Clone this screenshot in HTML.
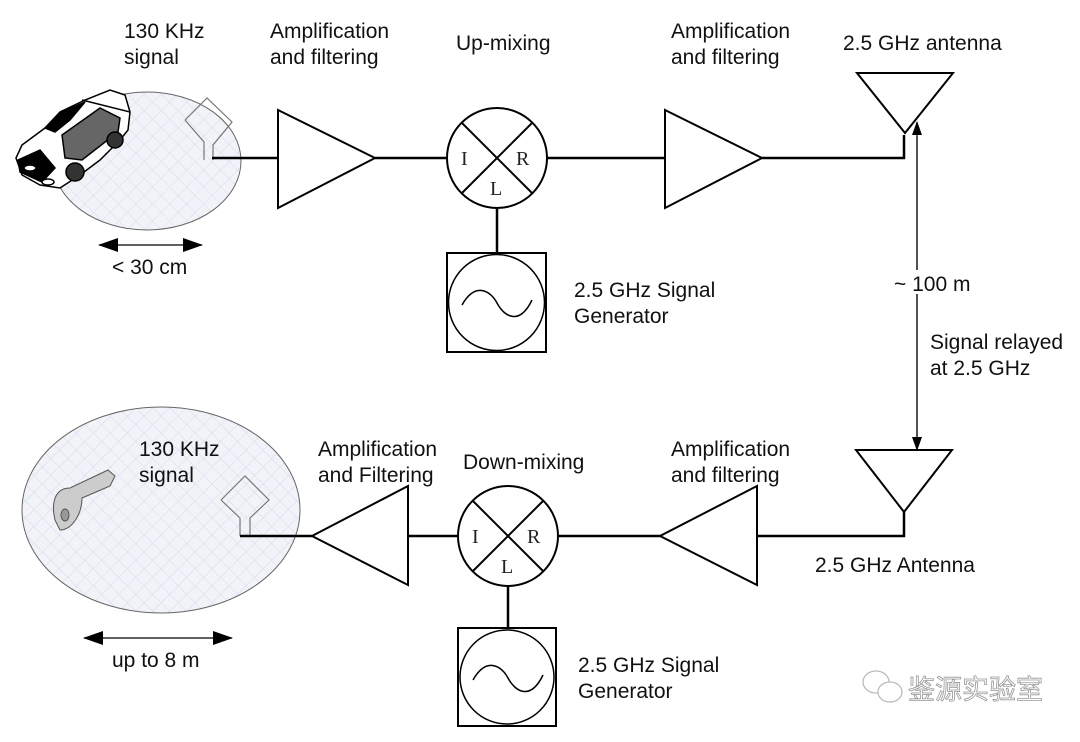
<!DOCTYPE html>
<html><head><meta charset="utf-8"><style>
html,body{margin:0;padding:0;background:#fff;}
svg text{font-family:"Liberation Sans",sans-serif;font-size:21px;fill:#111;}
svg text.s{font-family:"Liberation Serif",serif;font-size:20px;fill:#222;}
</style></head><body>
<svg width="1080" height="737" viewBox="0 0 1080 737" xmlns="http://www.w3.org/2000/svg">
<defs>
<pattern id="h" width="12" height="12" patternUnits="userSpaceOnUse" patternTransform="rotate(45)">
<rect width="12" height="12" fill="#f1f3f8"/>
<path d="M0 0H12M0 0V12" stroke="#d3dbef" stroke-width="1"/>
</pattern>
<marker id="a" markerWidth="14" markerHeight="10" refX="13" refY="5" orient="auto" markerUnits="userSpaceOnUse"><path d="M0 0L14 5L0 10z" fill="#000"/></marker>
<marker id="b" markerWidth="20" markerHeight="14" refX="19" refY="7" orient="auto" markerUnits="userSpaceOnUse"><path d="M0 0L20 7L0 14z" fill="#000"/></marker>
</defs>
<g fill="none" stroke="#000">
<ellipse cx="147" cy="161" rx="94" ry="69" fill="url(#h)" stroke="#666" stroke-width="1"/>
<!-- car -->
<g stroke="#000" stroke-width="1.5">
<path d="M16 158 L22 145 L45 128 L60 112 L85 100 L110 90 L125 95 L130 112 L128 130 L120 140 L100 160 L80 175 L60 188 L40 185 L22 175Z" fill="#fff"/>
<path d="M45 128 L62 112 L85 102 L70 120 L55 132Z" fill="#000"/>
<path d="M18 160 L40 150 L55 168 L42 182 L20 172Z" fill="#000"/>
<path d="M62 135 L100 108 L120 118 L118 132 L82 160 L65 158Z" fill="#666"/>
<path d="M82 100 L130 112" />
<circle cx="75" cy="172" r="9" fill="#333"/><circle cx="115" cy="140" r="8" fill="#333"/>
<ellipse cx="30" cy="168" rx="6" ry="3" fill="#fff"/><ellipse cx="48" cy="182" rx="6" ry="3" fill="#fff"/>
</g>
<g stroke="#777" stroke-width="1.2">
<path d="M185 120 L207 98 L232 122 L213 145 L213 160 M185 120 L204 142 L204 160"/>
</g>
<g stroke-width="2.5">
<path d="M212 158 H278"/>
<path d="M278 110 L375 158 L278 208Z" stroke-width="2"/>
<path d="M375 158 H447"/>
<circle cx="497" cy="158" r="50" stroke-width="2"/>
<path d="M462 123 L532 193 M532 123 L462 193" stroke-width="2"/>
<path d="M547 158 H665"/>
<path d="M665 110 L762 158 L665 208Z" stroke-width="2"/>
<path d="M762 158 H904 V135"/>
<path d="M857 73 H953 L905 133Z" stroke-width="2"/>
<path d="M497 208 V253"/>
<rect x="447" y="253" width="99" height="99" stroke-width="2"/>
<circle cx="496.5" cy="302.5" r="48" stroke-width="1.5"/>
<path d="M462 305 C475 282 490 290 497 303 C505 318 520 325 532 300" stroke-width="1.5"/>
</g>
<path d="M917 446 V122" stroke-width="1.2" marker-end="url(#a)"/>
<path d="M917 136 V450" stroke-width="1.2" marker-end="url(#a)"/>
<ellipse cx="161" cy="510" rx="139" ry="103" fill="url(#h)" stroke="#666" stroke-width="1"/>
<g stroke="#555" stroke-width="1" fill="#ccc">
<path d="M55 520 C50 498 58 488 70 488 L108 470 L115 476 L110 486 L96 492 L82 498 C82 514 72 530 60 530Z"/>
<ellipse cx="65" cy="515" rx="4" ry="6" fill="#999"/>
</g>
<g stroke="#777" stroke-width="1.2">
<path d="M221 500 L245 476 L269 500 L250 518 L250 535 M221 500 L240 518 L240 536"/>
</g>
<g stroke-width="2.5">
<path d="M240 536 H312"/>
<path d="M408 486 L312 536 L408 585Z" stroke-width="2"/>
<path d="M408 536 H458"/>
<circle cx="508" cy="536" r="50" stroke-width="2"/>
<path d="M473 501 L543 571 M543 501 L473 571" stroke-width="2"/>
<path d="M558 536 H660"/>
<path d="M757 486 L660 536 L757 585Z" stroke-width="2"/>
<path d="M757 536 H904 V512"/>
<path d="M856 450 H952 L904 512Z" stroke-width="2"/>
<path d="M508 586 V628"/>
<rect x="458" y="628" width="98" height="98" stroke-width="2"/>
<circle cx="507" cy="677" r="47" stroke-width="1.5"/>
<path d="M473 680 C486 657 501 665 508 678 C516 693 531 700 543 675" stroke-width="1.5"/>
</g>
<path d="M150 245 H99" stroke-width="1.2" marker-end="url(#b)"/>
<path d="M150 245 H202" stroke-width="1.2" marker-end="url(#b)"/>
<path d="M158 638 H84" stroke-width="1.2" marker-end="url(#b)"/>
<path d="M158 638 H232" stroke-width="1.2" marker-end="url(#b)"/>
</g>
<rect x="892" y="270" width="84" height="24" fill="#fff"/>
<text class="s" x="461" y="165">I</text><text class="s" x="516" y="165">R</text><text class="s" x="490" y="195">L</text>
<text class="s" x="472" y="543">I</text><text class="s" x="527" y="543">R</text><text class="s" x="501" y="573">L</text>
<text x="124" y="38">130 KHz</text><text x="124" y="64">signal</text>
<text x="270" y="38">Amplification</text><text x="270" y="64">and filtering</text>
<text x="456" y="50">Up-mixing</text>
<text x="671" y="38">Amplification</text><text x="671" y="64">and filtering</text>
<text x="843" y="50">2.5 GHz antenna</text>
<text x="112" y="274">&lt; 30 cm</text>
<text x="574" y="297">2.5 GHz Signal</text><text x="574" y="323">Generator</text>
<text x="894" y="291">~ 100 m</text>
<text x="930" y="349">Signal relayed</text><text x="930" y="375">at 2.5 GHz</text>
<text x="139" y="456">130 KHz</text><text x="139" y="482">signal</text>
<text x="318" y="456">Amplification</text><text x="318" y="482">and Filtering</text>
<text x="463" y="469">Down-mixing</text>
<text x="671" y="456">Amplification</text><text x="671" y="482">and filtering</text>
<text x="815" y="572">2.5 GHz Antenna</text>
<text x="112" y="667">up to 8 m</text>
<text x="578" y="672">2.5 GHz Signal</text><text x="578" y="698">Generator</text>
<g fill="none" stroke="#bbb" stroke-width="1.3">
<ellipse cx="876" cy="682" rx="13" ry="11"/><ellipse cx="890" cy="692" rx="12" ry="10" fill="#fff"/>
</g>
<text x="908" y="699" style="font-family:'Noto Sans CJK SC',sans-serif;font-size:27px;fill:#fff;stroke:#999;stroke-width:0.8">鉴源实验室</text>
</svg>
</body></html>
